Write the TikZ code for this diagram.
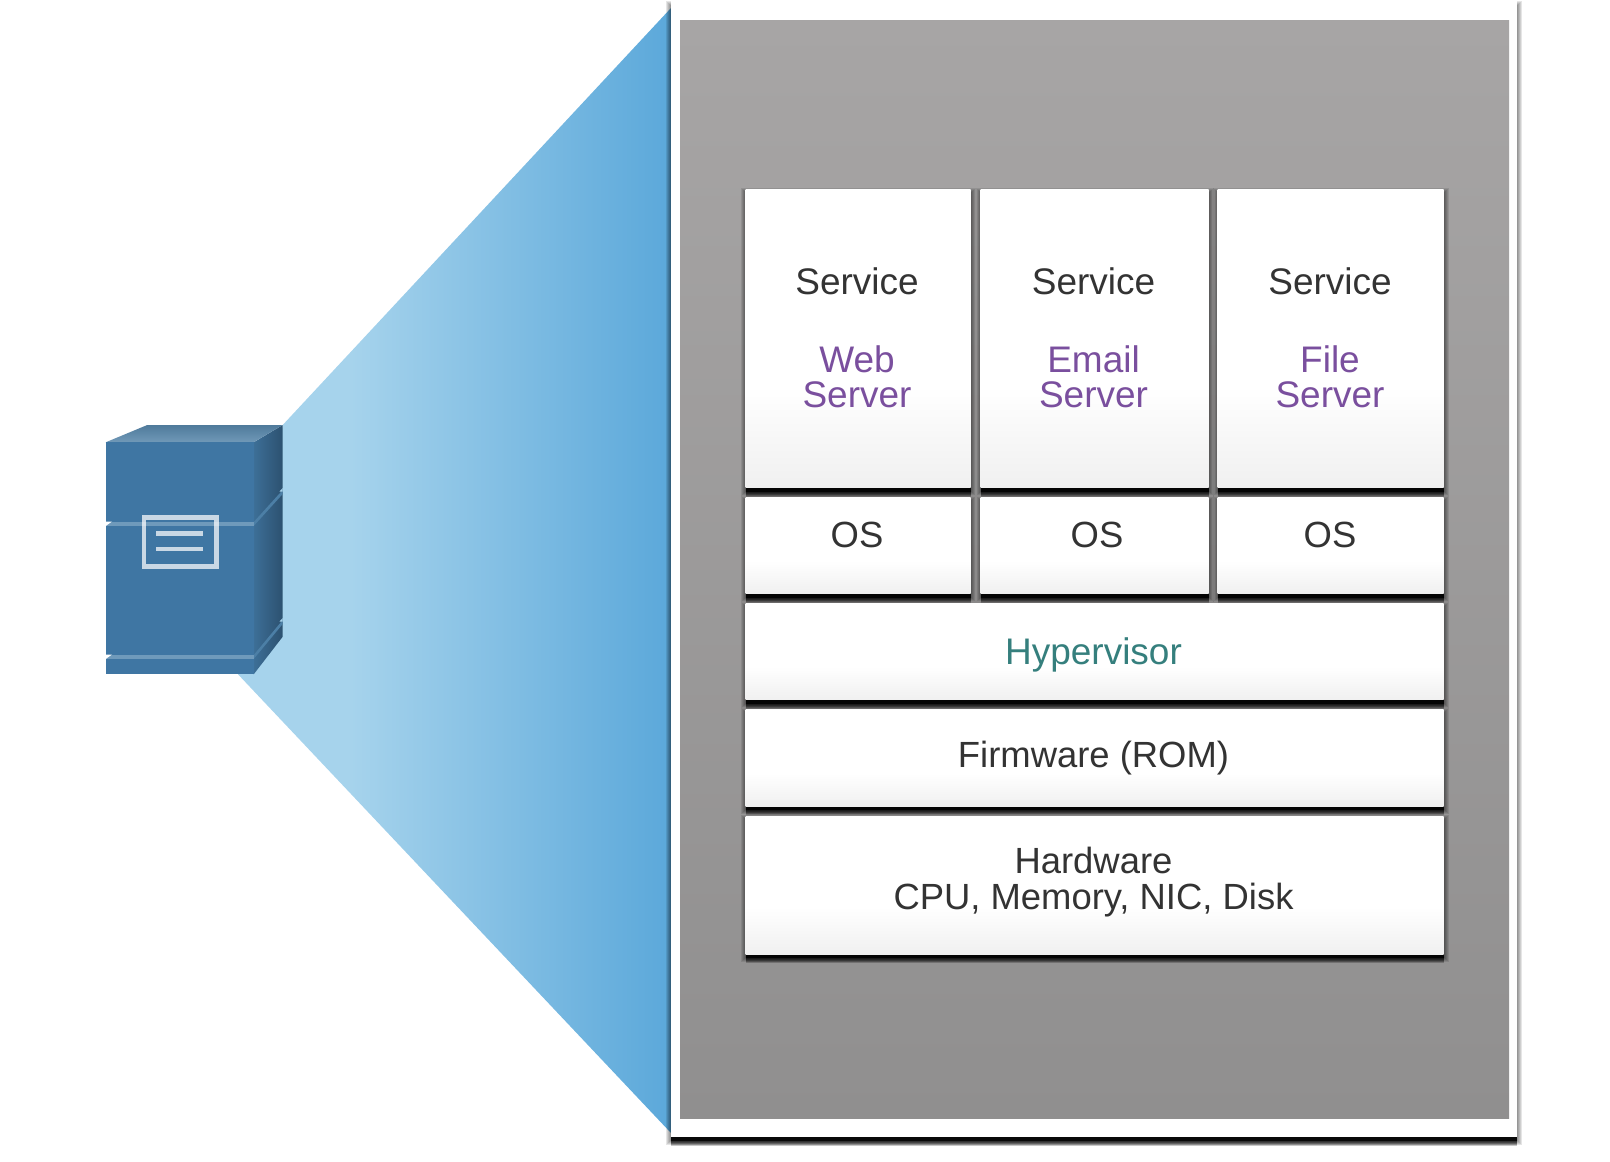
\documentclass[tikz,border=0pt]{standalone}
\usepackage{fontspec}
\setmainfont{Liberation Sans}
\usetikzlibrary{fit}
\definecolor{coneltblue}{HTML}{A6D3EC}
\definecolor{conedkblue}{HTML}{5BA8DA}
\definecolor{grayhigh}{HTML}{A7A5A5}
\definecolor{graylow}{HTML}{908F8F}
\definecolor{boxlow}{HTML}{F0F0F0}
\definecolor{dktext}{HTML}{333333}
\definecolor{svcpurple}{HTML}{7A4F9E}
\definecolor{hypteal}{HTML}{357F7D}
\definecolor{cubefront}{HTML}{3F76A3}
\definecolor{cubegroove}{HTML}{6F9ABB}
\definecolor{cubesidegroove}{HTML}{4C7FA6}
\definecolor{cubetopback}{HTML}{4F7A9B}
\definecolor{cubetopfront}{HTML}{7099B8}
\definecolor{cubesideleft}{HTML}{3D6F97}
\definecolor{cubesideright}{HTML}{2C5170}
\pgfdeclareverticalshading{boxfade}{100bp}{color(0bp)=(boxlow); color(25bp)=(boxlow); color(42bp)=(white); color(100bp)=(white)}
\pgfdeclarehorizontalshading{conefade}{100bp}{color(0bp)=(coneltblue); color(38bp)=(coneltblue); color(75bp)=(conedkblue); color(100bp)=(conedkblue)}
\tikzset{
  layerbox/.style={rectangle, inner sep=0pt, outer sep=0pt, shading=boxfade},
  dklabel/.style={text=dktext, font=\fontsize{26.3}{24.9}\selectfont, align=center},
  smlabel/.style={text=dktext, font=\fontsize{25.9}{25.2}\selectfont, align=center},
  svclabel/.style={text=svcpurple, font=\fontsize{26.3}{24.9}\selectfont, align=center},
}
% soft shadow under a box: x1, y1, x2, y2
\newcommand{\softshadow}[4]{
  \foreach \s in {5,4,3,2,1}
    \fill[black, opacity=0.1] (#1-\s,#2+3-\s) rectangle (#3+\s,#4+3+\s);
  \foreach \s in {5,4,3,2,1}
    \fill[black, opacity=0.22] (#1,#4) rectangle (#3,#4+4+\s);
  \fill[black, opacity=0.8] (#1,#4) rectangle (#3,#4+4);
}

\begin{document}
\begin{tikzpicture}[x=0.025cm, y=-0.025cm]

\useasboundingbox (0,0) rectangle (1610,1162);

% Cone from the server to the panel
\shade[shading=conefade] (282.7,425) -- (671,8) -- (671,1133) -- (238,674.3) -- cycle;

% Panel
\softshadow{671}{3}{1517}{1137}
\fill[white] (671,0) rectangle (1517,1137);
\shade[top color=grayhigh, bottom color=graylow] (680,21) rectangle (1509,1118);

% Shadows of the layers
\softshadow{745.5}{190}{970.5}{487.5}
\softshadow{980.5}{190}{1208.5}{487.5}
\softshadow{1217.5}{190}{1443.5}{487.5}
\softshadow{745.5}{497.5}{970.5}{593.5}
\softshadow{980.5}{497.5}{1208.5}{593.5}
\softshadow{1217.5}{497.5}{1443.5}{593.5}
\softshadow{745.5}{603.5}{1443.5}{699.5}
\softshadow{745.5}{709.5}{1443.5}{806}
\softshadow{745.5}{816.5}{1443.5}{954}

% Service column
\node[layerbox, fit={(745.5,190) (970.5,487.5)}] (websvc) {};
\node[layerbox, fit={(980.5,190) (1208.5,487.5)}] (emailsvc) {};
\node[layerbox, fit={(1217.5,190) (1443.5,487.5)}] (filesvc) {};
\node[dklabel] (websvctxt) at (857,281) {Service};
\node[dklabel] (emailsvctxt) at (1093.5,281) {Service};
\node[dklabel] (filesvctxt) at (1330,281) {Service};
\node[svclabel] (webtxt) at (857,377) {Web\\Server};
\node[svclabel] (emailtxt) at (1093.5,377) {Email\\Server};
\node[svclabel] (filetxt) at (1330,377) {File\\Server};

% OS row
\node[layerbox, fit={(745.5,497.5) (970.5,593.5)}] (webos) {};
\node[layerbox, fit={(980.5,497.5) (1208.5,593.5)}] (emailos) {};
\node[layerbox, fit={(1217.5,497.5) (1443.5,593.5)}] (fileos) {};
\node[smlabel] (webostxt) at (857,534.5) {OS};
\node[smlabel] (emailostxt) at (1097,534.5) {OS};
\node[smlabel] (fileostxt) at (1330,534.5) {OS};

% Full width layers
\node[layerbox, fit={(745.5,603.5) (1443.5,699.5)}] (hypervisor) {};
\node[text=hypteal, font=\fontsize{26.3}{24.9}\selectfont] (hypervisortxt) at (1093.5,654.5) {Hypervisor};
\node[layerbox, fit={(745.5,709.5) (1443.5,806)}] (firmware) {};
\node[smlabel] (firmwaretxt) at (1093.5,758) {Firmware (ROM)};
\node[layerbox, fit={(745.5,816.5) (1443.5,954)}] (hardware) {};
\node[smlabel] (hardwaretxt) at (1093.5,882) {Hardware\\CPU, Memory, NIC, Disk};

% Server: side, top, front
\shade[left color=cubesideleft, right color=cubesideright] (253.7,442.3) -- (282.7,425) -- (282.7,636.7) -- (253.7,674.3) -- cycle;
\shade[top color=cubetopback, bottom color=cubetopfront] (105.7,442.3) -- (147.3,425) -- (282.7,425) -- (253.7,442.3) -- cycle;
\fill[cubefront] (105.7,442.3) rectangle (253.7,674.3);

% Server grooves
\fill[cubesidegroove] (253.7,522) -- (282.7,490) -- (282.7,494) -- (253.7,526) -- cycle;
\fill[cubesidegroove] (253.7,655) -- (282.7,620) -- (282.7,624) -- (253.7,659) -- cycle;
\fill[cubegroove] (105.7,522) rectangle (253.7,526);
\fill[cubegroove] (105.7,655) rectangle (253.7,659);
\fill[white] (105.7,521.5) -- (112,521.5) -- (105.7,526) -- cycle;
\fill[white] (105.7,654.5) -- (112,654.5) -- (105.7,659) -- cycle;
\fill[coneltblue] (282.7,488) -- (282.7,491.5) -- (279.5,491.5) -- cycle;
\fill[coneltblue] (282.7,618) -- (282.7,621.5) -- (279.5,621.5) -- cycle;

% Server screen
\draw[white, opacity=0.72, line width=3.3pt] (143.9,517.5) rectangle (216.8,566.5);
\draw[white, opacity=0.72, line width=3.3pt] (156,533.7) -- (203,533.7);
\draw[white, opacity=0.72, line width=3.3pt] (156,549) -- (203,549);

\end{tikzpicture}
\end{document}
